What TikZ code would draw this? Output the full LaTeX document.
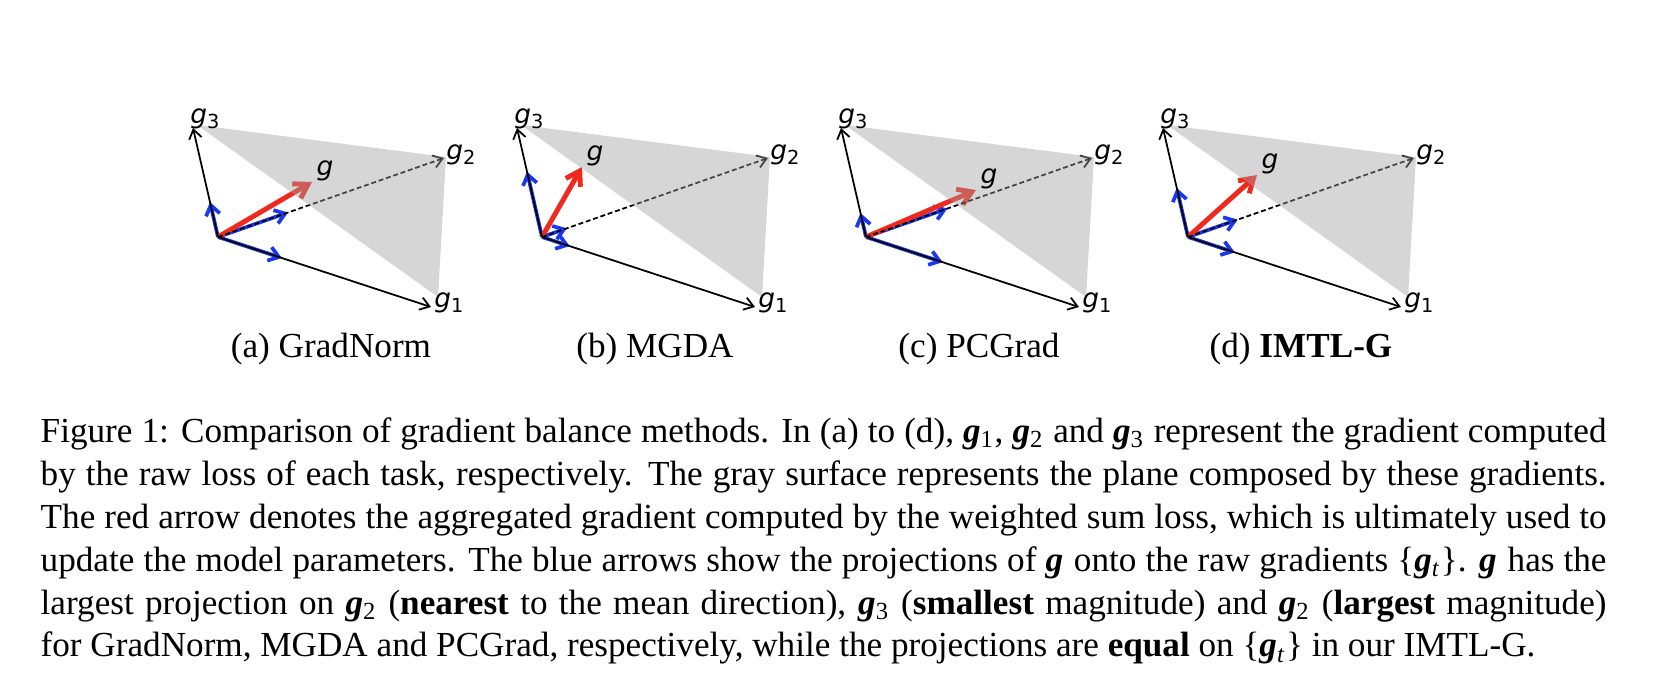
\documentclass[tikz,border=0pt]{standalone}
\usepackage{fontspec}
\setmainfont{Liberation Serif}
\newfontfamily\plotfont{DejaVu Sans}
\usetikzlibrary{arrows.meta,calc}
\definecolor{redarr}{RGB}{240,40,30}
\definecolor{bluearr}{RGB}{25,55,240}
\definecolor{planegray}{RGB}{160,160,160}
\newcommand{\gsub}[1]{{\itshape g}{\fontsize{5.5}{5.5}\selectfont\raisebox{-1.3pt}{#1}}}
\newcommand{\vg}[1]{\textbf{\textit{g}}\textsubscript{#1}}

\begin{document}
\begin{tikzpicture}[x=0.01cm,y=-0.01cm,
  grad/.style={line width=0.5pt,-{Straight Barb[length=2.6pt,width=3.6pt]}},
  gdash/.style={grad,dash pattern=on 1.4pt off 0.8pt},
  proj/.style={bluearr,line width=1.05pt,-{Straight Barb[length=2.8pt,width=4pt]}},
  agg/.style={redarr,line width=1.4pt,-{Straight Barb[length=3.8pt,width=4.8pt]}},
  plane/.style={fill=planegray,fill opacity=0.43},
  glab/.style={inner sep=0pt,font=\plotfont\fontsize{7.5}{7.5}\selectfont},
  sub/.style={inner sep=0pt,anchor=base,font=\fontsize{10}{12}\selectfont}]
\useasboundingbox (0,0) rectangle (1672,676);
% one panel per method
\foreach \p/\ox/\rx/\ry/\ta/\tb/\tc/\name in {a/218/94/-55/0.30/0.31/0.32/GradNorm,
    b/542/40/-70/0.13/0.11/0.60/MGDA, c/866/110/-47/0.36/0.36/0.22/PCGrad,
    d/1188/69/-62/0.22/0.22/0.45/\textbf{IMTL-G}}{
  \begin{scope}[shift={(\ox,237)}]
    \coordinate (o\p) at (0,0);
    \coordinate (t1\p) at (213,70);
    \coordinate (t2\p) at (226,-79);
    \coordinate (t3\p) at (-25,-109);
    \coordinate (r\p) at (\rx,\ry);
    \draw[proj] (o\p) -- ($(o\p)!\ta!(t1\p)$);
    \draw[proj] (o\p) -- ($(o\p)!\tb!(t2\p)$);
    \draw[proj] (o\p) -- ($(o\p)!\tc!(t3\p)$);
    \draw[agg] (o\p) -- (r\p);
    \draw[grad] (o\p) -- (t1\p);
    \draw[grad] (o\p) -- (t3\p);
    \draw[gdash] (o\p) -- (t2\p);
    \fill[plane] (-21,-112) -- (228,-80) -- (220,60) -- cycle;
    \node[glab] (l1\p) at (231,66) {\gsub{1}};
    \node[glab] (l2\p) at (243,-82) {\gsub{2}};
    \node[glab] (l3\p) at (-13,-118) {\gsub{3}};
    \node[glab] (lg\p) at (\rx+13,\ry-11) {\itshape g};
    \node[sub] (cap\p) at (113,120) {(\p) \name};
  \end{scope}}
\node[anchor=north west,inner sep=0pt,text width=15.65cm,align=justify,
  font=\fontsize{10}{12.2}\selectfont] (caption) at (40,417)
  {Figure 1: Comparison of gradient balance methods. In (a) to (d), \vg{1}, \vg{2} and \vg{3} represent the gradient computed\linebreak
  by the raw loss of each task, respectively. The gray surface represents the plane composed by these gradients.\linebreak
  The red arrow denotes the aggregated gradient computed by the weighted sum loss, which is ultimately used to\linebreak
  update the model parameters. The blue arrows show the projections of \vg{} onto the raw gradients \{\vg{\textit{t}}\}. \vg{} has the\linebreak
  largest projection on \vg{2} (\textbf{nearest} to the mean direction), \vg{3} (\textbf{smallest} magnitude) and \vg{2} (\textbf{largest} magnitude)\linebreak
  for GradNorm, MGDA and PCGrad, respectively, while the projections are \textbf{equal} on \{\vg{\textit{t}}\} in our IMTL-G.};
\end{tikzpicture}
\end{document}
